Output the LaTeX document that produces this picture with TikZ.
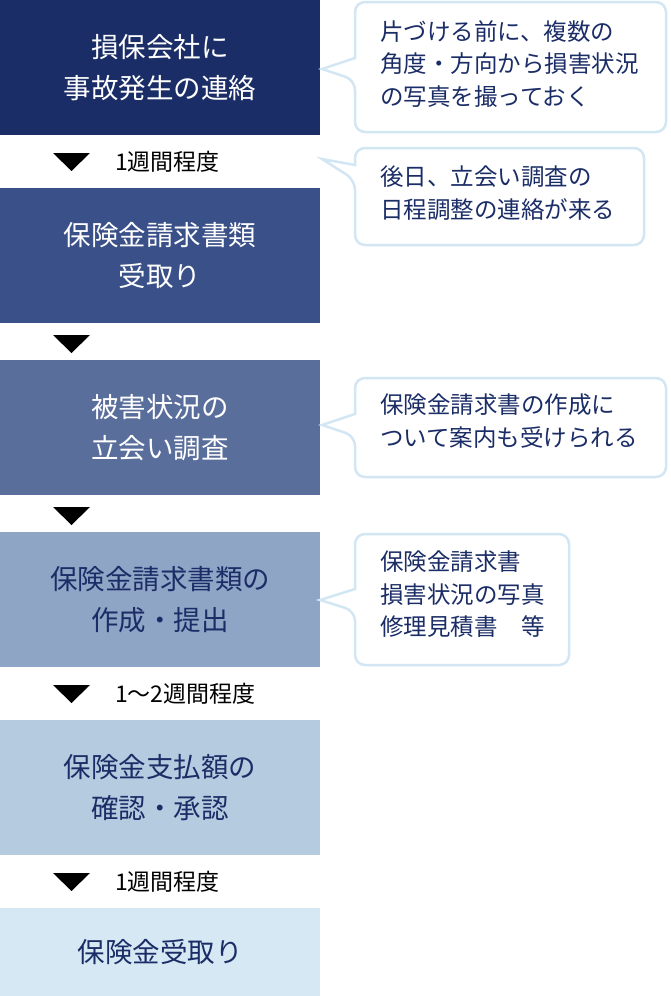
\documentclass[tikz,border=0pt]{standalone}
\usepackage{fontspec}
\setmainfont{Noto Sans CJK JP}
\definecolor{navy}{HTML}{1B2D66}
\definecolor{cbord}{HTML}{D3E6F3}
\definecolor{cb}{HTML}{3A5088}
\definecolor{cc}{HTML}{5A6E9B}
\definecolor{cd}{HTML}{8FA5C6}
\definecolor{ce}{HTML}{B5CCE0}
\definecolor{cf}{HTML}{D5E8F4}
\begin{document}
\begin{tikzpicture}[x=1pt,y=-1pt,
 stepbox/.style={draw=none,minimum width=320pt,anchor=north west,inner sep=0pt,align=center,font=\fontsize{27.5}{41}\selectfont},
 lbl/.style={anchor=west,font=\fontsize{23}{26}\selectfont,inner sep=0pt},
 callout/.style={draw=cbord,line width=2.5pt,fill=white,rounded corners=10pt},
 ctext/.style={anchor=north west,align=left,inner sep=0pt,font=\fontsize{23.5}{32.5}\selectfont,text=navy}]
\useasboundingbox (0,0) rectangle (670,996);
\node[stepbox,fill=navy,minimum height=135pt,text=white] (s1) at (0,0) {損保会社に\\事故発生の連絡};
\node[stepbox,fill=cb,minimum height=135pt,text=white] (s2) at (0,188) {保険金請求書類\\受取り};
\node[stepbox,fill=cc,minimum height=135pt,text=white] (s3) at (0,360) {被害状況の\\立会い調査};
\node[stepbox,fill=cd,minimum height=135pt,text=navy] (s4) at (0,532) {保険金請求書類の\\作成・提出};
\node[stepbox,fill=ce,minimum height=135pt,text=navy] (s5) at (0,720) {保険金支払額の\\確認・承認};
\node[stepbox,fill=cf,minimum height=88pt,text=navy] (s6) at (0,908) {保険金受取り};
\foreach \y in {153,335,507,685,873}{\fill (53,\y) -- (90,\y) -- (71.5,\y+18) -- cycle;}
\node[lbl] (l1) at (115,162) {1週間程度};
\node[lbl] (l2) at (115,694) {1〜2週間程度};
\node[lbl] (l3) at (115,882) {1週間程度};
\draw[callout] (355,2) -- (666,2) -- (666,132) -- (355,132) -- (355,80) [sharp corners]-- (322,69) -- (355,58) [rounded corners=10pt]-- cycle;
\node[ctext] (c1) at (380,20) {片づける前に、複数の\\角度・方向から損害状況\\の写真を撮っておく};
\draw[callout] (355,148) -- (644,148) -- (644,245) -- (355,245) -- (355,180) [sharp corners]-- (322,159) -- (355,165) [rounded corners=10pt]-- cycle;
\node[ctext] (c2) at (380,166) {後日、立会い調査の\\日程調整の連絡が来る};
\draw[callout] (355,378) -- (666,378) -- (666,477) -- (355,477) -- (355,436) [sharp corners]-- (322,425) -- (355,414) [rounded corners=10pt]-- cycle;
\node[ctext] (c3) at (380,394) {保険金請求書の作成に\\ついて案内も受けられる};
\draw[callout] (355,534) -- (569,534) -- (569,665) -- (355,665) -- (355,611) [sharp corners]-- (320,600) -- (355,589) [rounded corners=10pt]-- cycle;
\node[ctext] (c4) at (380,551) {保険金請求書\\損害状況の写真\\修理見積書\quad 等};
\end{tikzpicture}
\end{document}
